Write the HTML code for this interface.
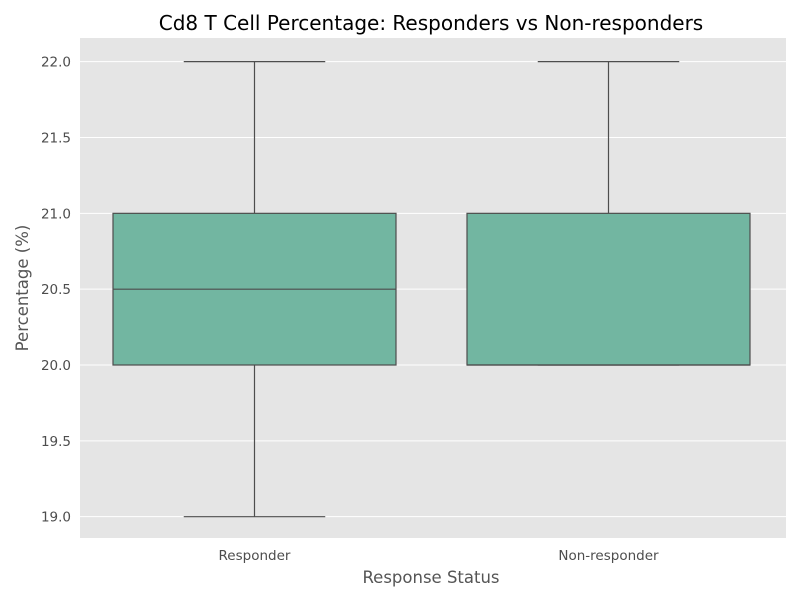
<!DOCTYPE html>
<html><head><meta charset="utf-8"><style>
body{margin:0;background:#fff;font-family:"DejaVu Sans","Liberation Sans",sans-serif;}
</style></head><body>
<svg id="chart" width="800" height="600" xmlns="http://www.w3.org/2000/svg" font-family="DejaVu Sans, Liberation Sans, sans-serif">
<rect x="0" y="0" width="800" height="600" fill="#fff"/>
<rect x="80" y="38" width="706" height="500" fill="#e5e5e5"/>
<g id="grid"></g><g id="marks"></g><g id="ticks"></g>
<text x="431" y="30" text-anchor="middle" font-size="20" fill="#000">Cd8 T Cell Percentage: Responders vs Non-responders</text>
<text x="431" y="583" text-anchor="middle" font-size="16.5" fill="#555">Response Status</text>
<text transform="translate(28,288) rotate(-90)" text-anchor="middle" font-size="16.5" fill="#555">Percentage (%)</text>
</svg>
<script>
const categories = ["Responder", "Non-responder"];
const q1 = [20.0, 20.0];
const medians = [20.5, 20.0];
const q3 = [21.0, 21.0];
const whiskerLow = [19.0, 20.0];
const whiskerHigh = [22.0, 22.0];
const yTicks = [19.0, 19.5, 20.0, 20.5, 21.0, 21.5, 22.0];

const NS = "http://www.w3.org/2000/svg";
const yS = v => 365 - (v - 20) * 151.67;
const xS = i => 254.5 + 354 * i;
const bw = 283;
function mk(parent, tag, attrs, text){
  const e = document.createElementNS(NS, tag);
  for (const k in attrs) e.setAttribute(k, attrs[k]);
  if (text !== undefined) e.textContent = text;
  document.getElementById(parent).appendChild(e);
  return e;
}
yTicks.forEach(t => {
  const y = yS(t);
  const g = mk("grid", "line", {x1:80, x2:786, y1:y, y2:y, stroke:"#fff", "stroke-width":1});
  
  
  const tl = mk("ticks", "text", {x:71, y:y+5, "text-anchor":"end", "font-size":13.5, fill:"#4d4d4d"}, t.toFixed(1));
  
  
});
categories.forEach((c, i) => {
  const cx = xS(i);
  const s = {stroke:"#4d4d4d", "stroke-width":1.2};
  const wl = mk("marks", "line", Object.assign({x1:cx, x2:cx, y1:yS(q1[i]), y2:yS(whiskerLow[i])}, s));
  
  
  const wh = mk("marks", "line", Object.assign({x1:cx, x2:cx, y1:yS(q3[i]), y2:yS(whiskerHigh[i])}, s));
  
  
  const cl = mk("marks", "line", Object.assign({x1:cx-bw/4, x2:cx+bw/4, y1:yS(whiskerLow[i]), y2:yS(whiskerLow[i])}, s));
  
  
  const ch = mk("marks", "line", Object.assign({x1:cx-bw/4, x2:cx+bw/4, y1:yS(whiskerHigh[i]), y2:yS(whiskerHigh[i])}, s));
  
  
  const b = mk("marks", "rect", Object.assign({x:cx-bw/2, y:yS(q3[i]), width:bw, height:yS(q1[i])-yS(q3[i]), fill:"#72b6a1"}, s));
  
  
  const m = mk("marks", "line", Object.assign({x1:cx-bw/2, x2:cx+bw/2, y1:yS(medians[i]), y2:yS(medians[i])}, s));
  
  
  const xl = mk("ticks", "text", {x:cx, y:560, "text-anchor":"middle", "font-size":13.5, fill:"#4d4d4d"}, c);
  
  
});
</script>
</body></html>
